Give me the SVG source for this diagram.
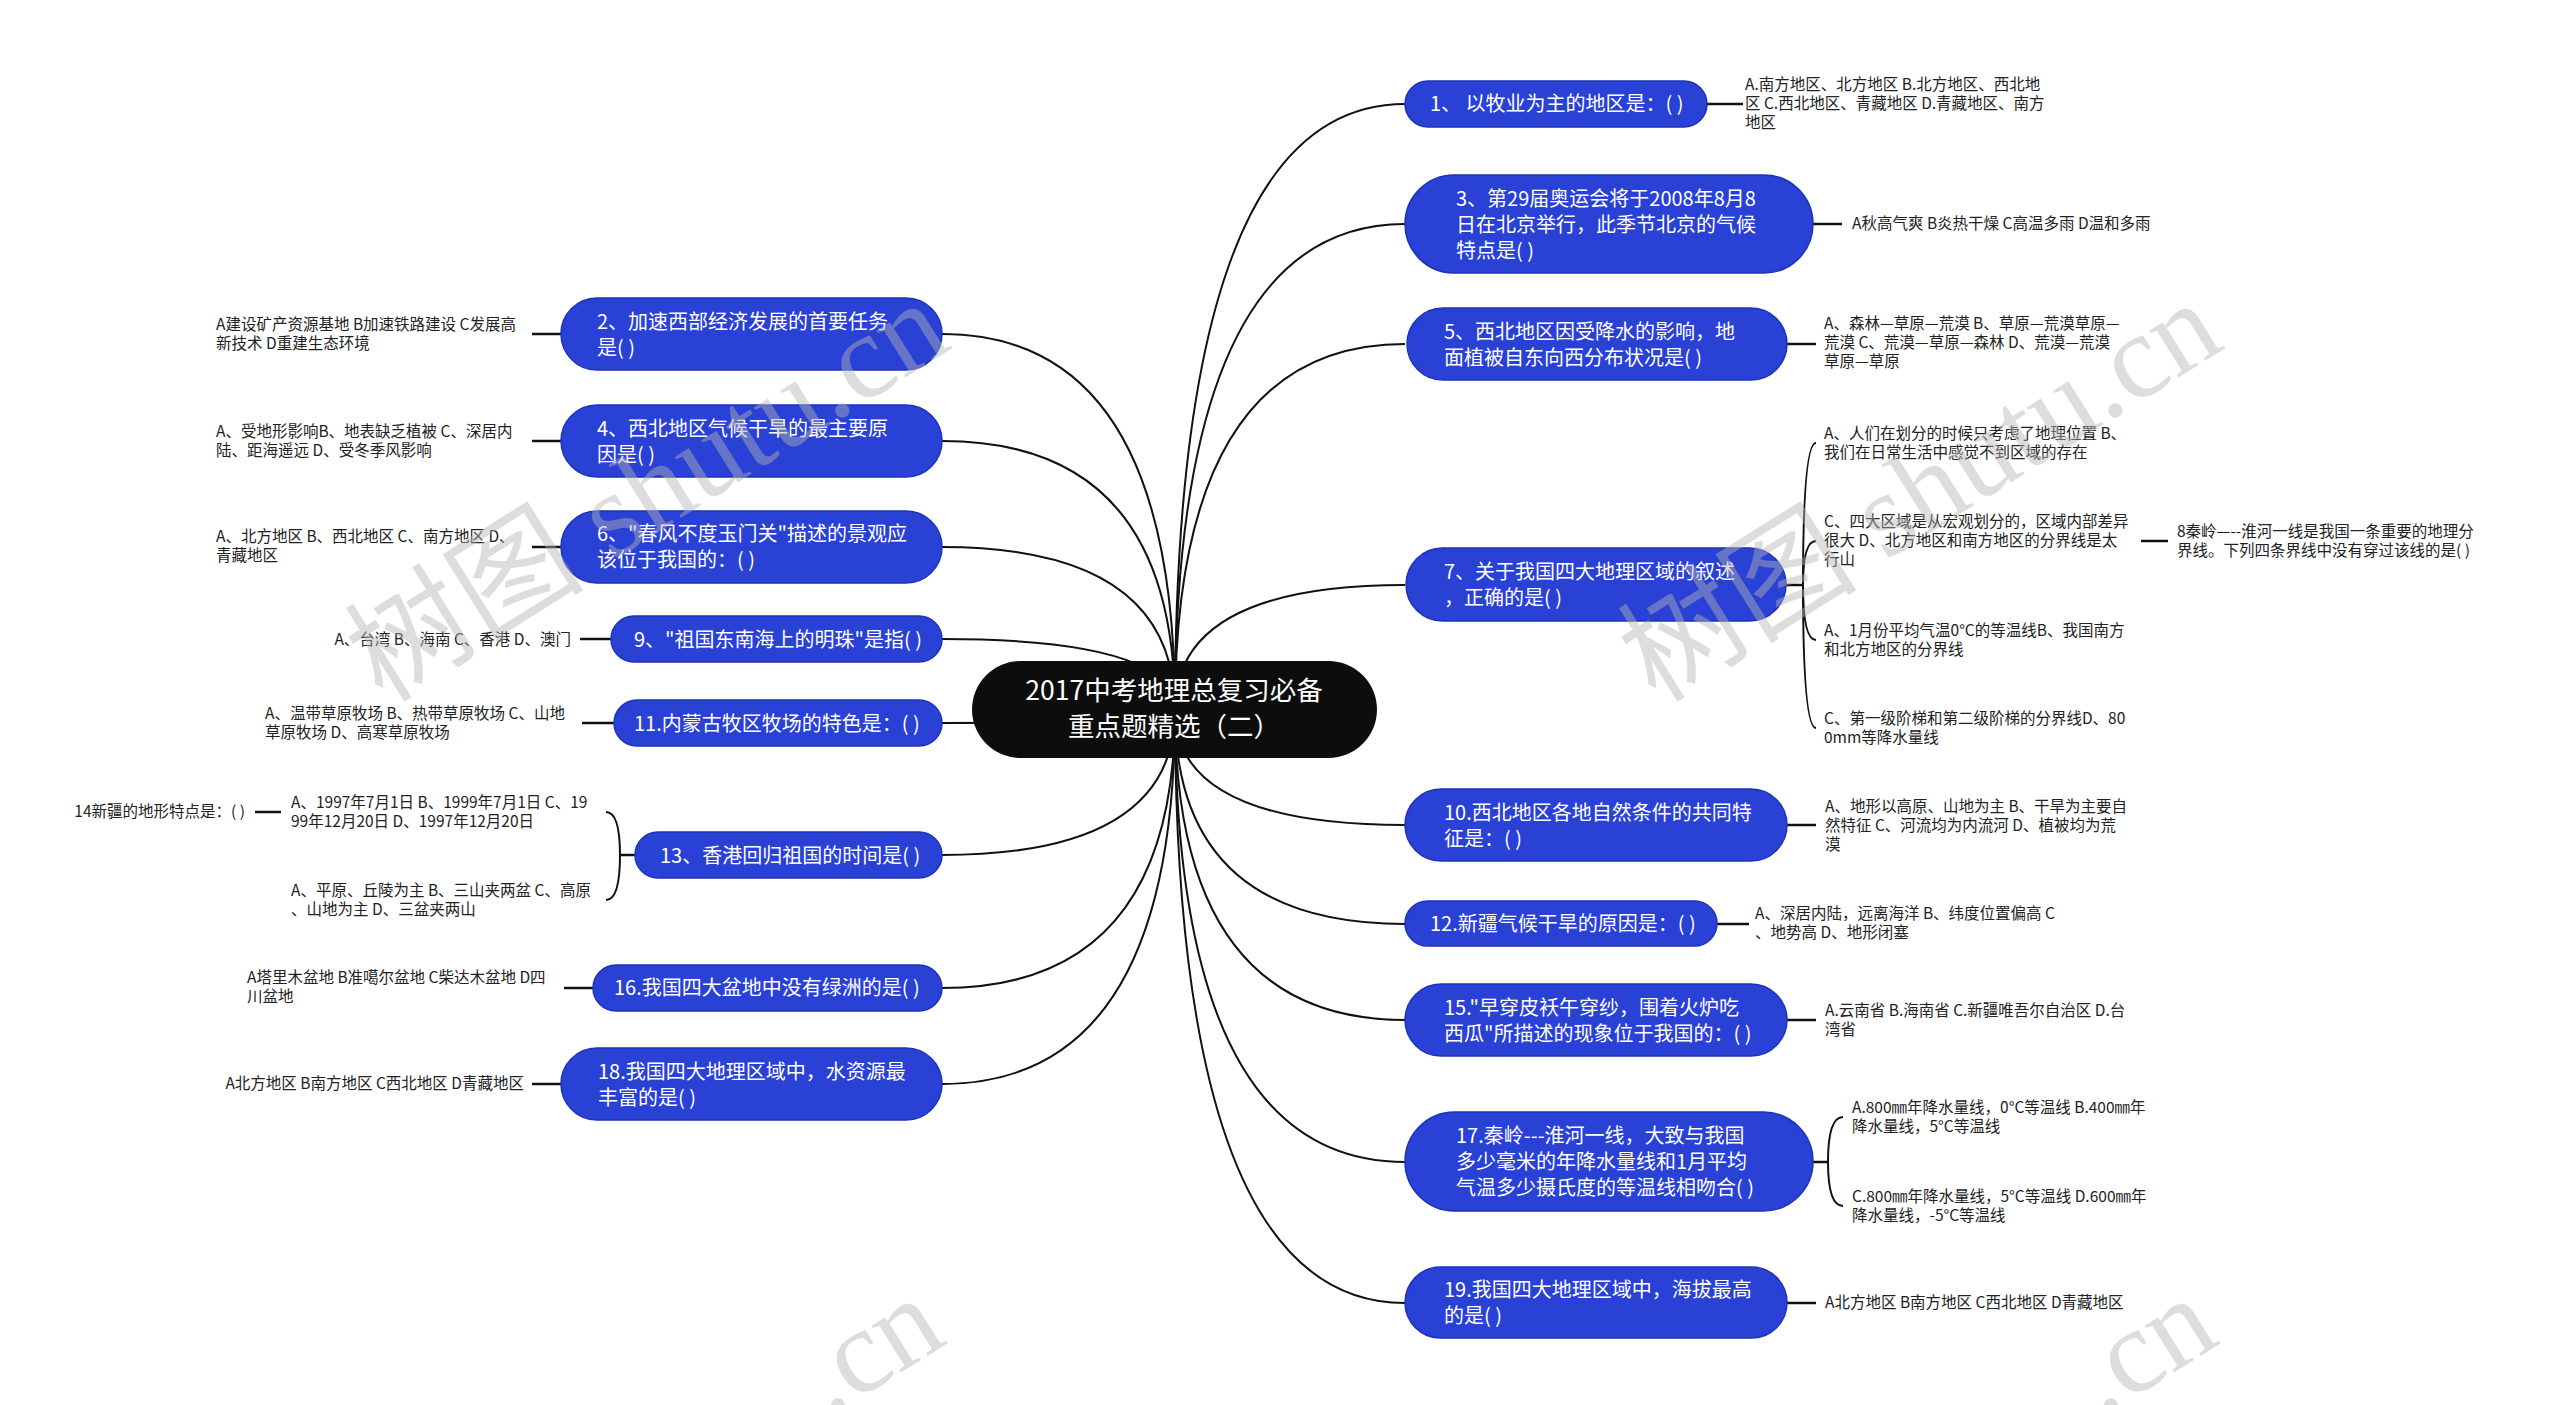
<svg xmlns="http://www.w3.org/2000/svg" width="2560" height="1405" viewBox="0 0 2560 1405">
<defs>
<style>
.bg{fill:#ffffff}
.node{fill:#2a41d6;stroke:#1c33b8;stroke-width:1.5}
.root{fill:#0d0d0d}
.nt{font-family:'Noto Sans CJK SC','Microsoft YaHei',sans-serif;font-size:20px;fill:#ffffff}
.rt{font-family:'Noto Sans CJK SC','Microsoft YaHei',sans-serif;font-size:26.5px;fill:#ffffff;text-anchor:middle}
.at{font-family:'Noto Sans CJK SC','Microsoft YaHei',sans-serif;font-size:15.5px;fill:#222222}
.end{text-anchor:end}
.c{fill:none;stroke:#111111;stroke-width:2}
.s{fill:none;stroke:#111111;stroke-width:2.5}
.wm{font-family:'Liberation Serif','Noto Sans CJK SC',serif;font-size:120px;fill:#b4b4b4;fill-opacity:0.45}
</style>
</defs>
<rect class="bg" x="0" y="0" width="2560" height="1405"/>

<g id="connectors">
<path class="c" d="M1175 710 Q1175 334 942 334"/>
<path class="c" d="M1175 710 Q1175 441 942 441"/>
<path class="c" d="M1175 710 Q1175 547 942 547"/>
<path class="c" d="M1175 710 Q1175 639 942 639"/>
<path class="c" d="M1175 710 Q1175 723 942 723"/>
<path class="c" d="M1175 710 Q1175 855 942 855"/>
<path class="c" d="M1175 710 Q1175 988 942 988"/>
<path class="c" d="M1175 710 Q1175 1084 942 1084"/>
<path class="c" d="M1175 710 Q1175 104 1405 104"/>
<path class="c" d="M1175 710 Q1175 224 1405 224"/>
<path class="c" d="M1175 710 Q1175 344 1405 344"/>
<path class="c" d="M1175 710 Q1175 585 1405 585"/>
<path class="c" d="M1175 710 Q1175 825 1405 825"/>
<path class="c" d="M1175 710 Q1175 924 1405 924"/>
<path class="c" d="M1175 710 Q1175 1020 1405 1020"/>
<path class="c" d="M1175 710 Q1175 1162 1405 1162"/>
<path class="c" d="M1175 710 Q1175 1303 1405 1303"/>
<path class="s" d="M532 334 H561"/>
<path class="s" d="M532 441 H561"/>
<path class="s" d="M532 547 H561"/>
<path class="s" d="M580 639 H611"/>
<path class="s" d="M582 723 H614"/>
<path class="s" d="M564 988 H593"/>
<path class="s" d="M532 1084 H561"/>
<path class="s" d="M635 855 H620"/>
<path class="c" d="M620 855 Q620 812 606 812"/>
<path class="c" d="M620 855 Q620 900 606 900"/>
<path class="s" d="M255 812 H281"/>
<path class="s" d="M1707 104 H1743"/>
<path class="s" d="M1813 224 H1842"/>
<path class="s" d="M1787 344 H1816"/>
<path class="s" d="M1787 825 H1816"/>
<path class="s" d="M1717 924 H1749"/>
<path class="s" d="M1787 1020 H1816"/>
<path class="s" d="M1787 1303 H1816"/>
<path class="s" d="M1786 585 H1803"/>
<path class="c" d="M1803 585 Q1803 443 1816 443"/>
<path class="c" d="M1803 585 Q1803 541 1816 541"/>
<path class="c" d="M1803 585 Q1803 640 1816 640"/>
<path class="c" d="M1803 585 Q1803 728 1816 728"/>
<path class="s" d="M2141 541 H2168"/>
<path class="s" d="M1813 1162 H1828"/>
<path class="c" d="M1828 1162 Q1828 1117 1843 1117"/>
<path class="c" d="M1828 1162 Q1828 1206 1843 1206"/>
</g>

<g id="root">
<rect class="root" x="972" y="661" width="405" height="97" rx="48.5"/>
<text class="rt" x="1174" y="700">2017中考地理总复习必备</text>
<text class="rt" x="1174" y="736">重点题精选（二）</text>
</g>

<g id="node-2">
<rect class="node" x="561" y="298" width="381" height="72" rx="36"/>
<text class="nt" x="597" y="328.5">2、加速西部经济发展的首要任务</text>
<text class="nt" x="597" y="354.5">是( )</text>
</g>
<g id="answer-2">
<text class="at" x="216" y="329.5">A建设矿产资源基地 B加速铁路建设 C发展高</text>
<text class="at" x="216" y="348.5">新技术 D重建生态环境</text>
</g>

<g id="node-4">
<rect class="node" x="561" y="405" width="381" height="72" rx="36"/>
<text class="nt" x="597" y="435.5">4、西北地区气候干旱的最主要原</text>
<text class="nt" x="597" y="461.5">因是( )</text>
</g>
<g id="answer-4">
<text class="at" x="216" y="436.5">A、受地形影响B、地表缺乏植被 C、深居内</text>
<text class="at" x="216" y="455.5">陆、距海遥远 D、受冬季风影响</text>
</g>

<g id="node-6">
<rect class="node" x="561" y="511" width="381" height="72" rx="36"/>
<text class="nt" x="597" y="541">6、"春风不度玉门关"描述的景观应</text>
<text class="nt" x="597" y="567">该位于我国的：( )</text>
</g>
<g id="answer-6">
<text class="at" x="216" y="542">A、北方地区 B、西北地区 C、南方地区 D、</text>
<text class="at" x="216" y="561">青藏地区</text>
</g>

<g id="node-9">
<rect class="node" x="611" y="616" width="331" height="46" rx="23"/>
<text class="nt" x="634" y="646.5">9、"祖国东南海上的明珠"是指( )</text>
</g>
<g id="answer-9">
<text class="at end" x="571" y="644.5">A、台湾 B、海南 C、香港 D、澳门</text>
</g>

<g id="node-11">
<rect class="node" x="614" y="700" width="328" height="46" rx="23"/>
<text class="nt" x="634" y="730.5">11.内蒙古牧区牧场的特色是：( )</text>
</g>
<g id="answer-11">
<text class="at" x="265" y="718.5">A、温带草原牧场 B、热带草原牧场 C、山地</text>
<text class="at" x="265" y="737.5">草原牧场 D、高寒草原牧场</text>
</g>

<g id="node-13">
<rect class="node" x="635" y="832" width="307" height="46" rx="23"/>
<text class="nt" x="660" y="862.5">13、香港回归祖国的时间是( )</text>
</g>
<g id="answer-13a">
<text class="at" x="291" y="807.5">A、1997年7月1日 B、1999年7月1日 C、19</text>
<text class="at" x="291" y="826.5">99年12月20日 D、1997年12月20日</text>
</g>
<g id="answer-13b">
<text class="at" x="291" y="895.5">A、平原、丘陵为主 B、三山夹两盆 C、高原</text>
<text class="at" x="291" y="914.5">、山地为主 D、三盆夹两山</text>
</g>
<g id="node-14">
<text class="at end" x="245" y="817">14新疆的地形特点是：( )</text>
</g>

<g id="node-16">
<rect class="node" x="593" y="965" width="349" height="46" rx="23"/>
<text class="nt" x="614" y="995">16.我国四大盆地中没有绿洲的是( )</text>
</g>
<g id="answer-16">
<text class="at" x="247" y="983">A塔里木盆地 B准噶尔盆地 C柴达木盆地 D四</text>
<text class="at" x="247" y="1002">川盆地</text>
</g>

<g id="node-18">
<rect class="node" x="561" y="1048" width="381" height="72" rx="36"/>
<text class="nt" x="598" y="1078.5">18.我国四大地理区域中，水资源最</text>
<text class="nt" x="598" y="1104.5">丰富的是( )</text>
</g>
<g id="answer-18">
<text class="at end" x="524" y="1089">A北方地区 B南方地区 C西北地区 D青藏地区</text>
</g>

<g id="node-1">
<rect class="node" x="1405" y="81" width="302" height="46" rx="23"/>
<text class="nt" x="1430" y="111">1、 以牧业为主的地区是：( )</text>
</g>
<g id="answer-1">
<text class="at" x="1745" y="89.5">A.南方地区、北方地区 B.北方地区、西北地</text>
<text class="at" x="1745" y="108.5">区 C.西北地区、青藏地区 D.青藏地区、南方</text>
<text class="at" x="1745" y="127.5">地区</text>
</g>

<g id="node-3">
<rect class="node" x="1405" y="175" width="408" height="98" rx="49"/>
<text class="nt" x="1456" y="205.5">3、第29届奥运会将于2008年8月8</text>
<text class="nt" x="1456" y="231.5">日在北京举行，此季节北京的气候</text>
<text class="nt" x="1456" y="257.5">特点是( )</text>
</g>
<g id="answer-3">
<text class="at" x="1852" y="229">A秋高气爽 B炎热干燥 C高温多雨 D温和多雨</text>
</g>

<g id="node-5">
<rect class="node" x="1407" y="308" width="380" height="72" rx="36"/>
<text class="nt" x="1444" y="338.5">5、西北地区因受降水的影响，地</text>
<text class="nt" x="1444" y="364.5">面植被自东向西分布状况是( )</text>
</g>
<g id="answer-5">
<text class="at" x="1824" y="329">A、森林—草原—荒漠 B、草原—荒漠草原—</text>
<text class="at" x="1824" y="348">荒漠 C、荒漠—草原—森林 D、荒漠—荒漠</text>
<text class="at" x="1824" y="367">草原—草原</text>
</g>

<g id="node-7">
<rect class="node" x="1406" y="548" width="380" height="73" rx="36.5"/>
<text class="nt" x="1444" y="579">7、关于我国四大地理区域的叙述</text>
<text class="nt" x="1444" y="605">，正确的是( )</text>
</g>
<g id="answer-7a">
<text class="at" x="1824" y="438.5">A、人们在划分的时候只考虑了地理位置 B、</text>
<text class="at" x="1824" y="457.5">我们在日常生活中感觉不到区域的存在</text>
</g>
<g id="answer-7b">
<text class="at" x="1824" y="527">C、四大区域是从宏观划分的，区域内部差异</text>
<text class="at" x="1824" y="546">很大 D、北方地区和南方地区的分界线是太</text>
<text class="at" x="1824" y="565">行山</text>
</g>
<g id="answer-7c">
<text class="at" x="1824" y="635.5">A、1月份平均气温0°C的等温线B、我国南方</text>
<text class="at" x="1824" y="654.5">和北方地区的分界线</text>
</g>
<g id="answer-7d">
<text class="at" x="1824" y="723.5">C、第一级阶梯和第二级阶梯的分界线D、80</text>
<text class="at" x="1824" y="742.5">0mm等降水量线</text>
</g>
<g id="node-8">
<text class="at" x="2177" y="537">8秦岭—--淮河一线是我国一条重要的地理分</text>
<text class="at" x="2177" y="556">界线。下列四条界线中没有穿过该线的是( )</text>
</g>

<g id="node-10">
<rect class="node" x="1405" y="789" width="382" height="72" rx="36"/>
<text class="nt" x="1444" y="819.5">10.西北地区各地自然条件的共同特</text>
<text class="nt" x="1444" y="845.5">征是：( )</text>
</g>
<g id="answer-10">
<text class="at" x="1825" y="812">A、地形以高原、山地为主 B、干旱为主要自</text>
<text class="at" x="1825" y="831">然特征 C、河流均为内流河 D、植被均为荒</text>
<text class="at" x="1825" y="850">漠</text>
</g>

<g id="node-12">
<rect class="node" x="1405" y="901" width="312" height="45" rx="22.5"/>
<text class="nt" x="1430" y="931">12.新疆气候干旱的原因是：( )</text>
</g>
<g id="answer-12">
<text class="at" x="1755" y="919">A、深居内陆，远离海洋 B、纬度位置偏高 C</text>
<text class="at" x="1755" y="938">、地势高 D、地形闭塞</text>
</g>

<g id="node-15">
<rect class="node" x="1405" y="984" width="382" height="72" rx="36"/>
<text class="nt" x="1444" y="1014.5">15."早穿皮袄午穿纱，围着火炉吃</text>
<text class="nt" x="1444" y="1040.5">西瓜"所描述的现象位于我国的：( )</text>
</g>
<g id="answer-15">
<text class="at" x="1825" y="1016">A.云南省 B.海南省 C.新疆唯吾尔自治区 D.台</text>
<text class="at" x="1825" y="1035">湾省</text>
</g>

<g id="node-17">
<rect class="node" x="1405" y="1112" width="408" height="99" rx="49.5"/>
<text class="nt" x="1456" y="1143">17.秦岭---淮河一线，大致与我国</text>
<text class="nt" x="1456" y="1169">多少毫米的年降水量线和1月平均</text>
<text class="nt" x="1456" y="1195">气温多少摄氏度的等温线相吻合( )</text>
</g>
<g id="answer-17a">
<text class="at" x="1852" y="1112.5">A.800㎜年降水量线，0°C等温线 B.400㎜年</text>
<text class="at" x="1852" y="1131.5">降水量线，5°C等温线</text>
</g>
<g id="answer-17b">
<text class="at" x="1852" y="1201.5">C.800㎜年降水量线，5°C等温线 D.600㎜年</text>
<text class="at" x="1852" y="1220.5">降水量线，-5°C等温线</text>
</g>

<g id="node-19">
<rect class="node" x="1405" y="1267" width="382" height="71" rx="35.5"/>
<text class="nt" x="1444" y="1297">19.我国四大地理区域中，海拔最高</text>
<text class="nt" x="1444" y="1323">的是( )</text>
</g>
<g id="answer-19">
<text class="at" x="1825" y="1307.5">A北方地区 B南方地区 C西北地区 D青藏地区</text>
</g>

<g id="watermark">
<text class="wm" transform="translate(383 704) rotate(-32)">树图 shutu.cn</text>
<text class="wm" transform="translate(1656 704) rotate(-32)">树图 shutu.cn</text>
<text class="wm" transform="translate(828 1418) rotate(-32)">.cn</text>
<text class="wm" transform="translate(2101 1418) rotate(-32)">.cn</text>
</g>
</svg>
